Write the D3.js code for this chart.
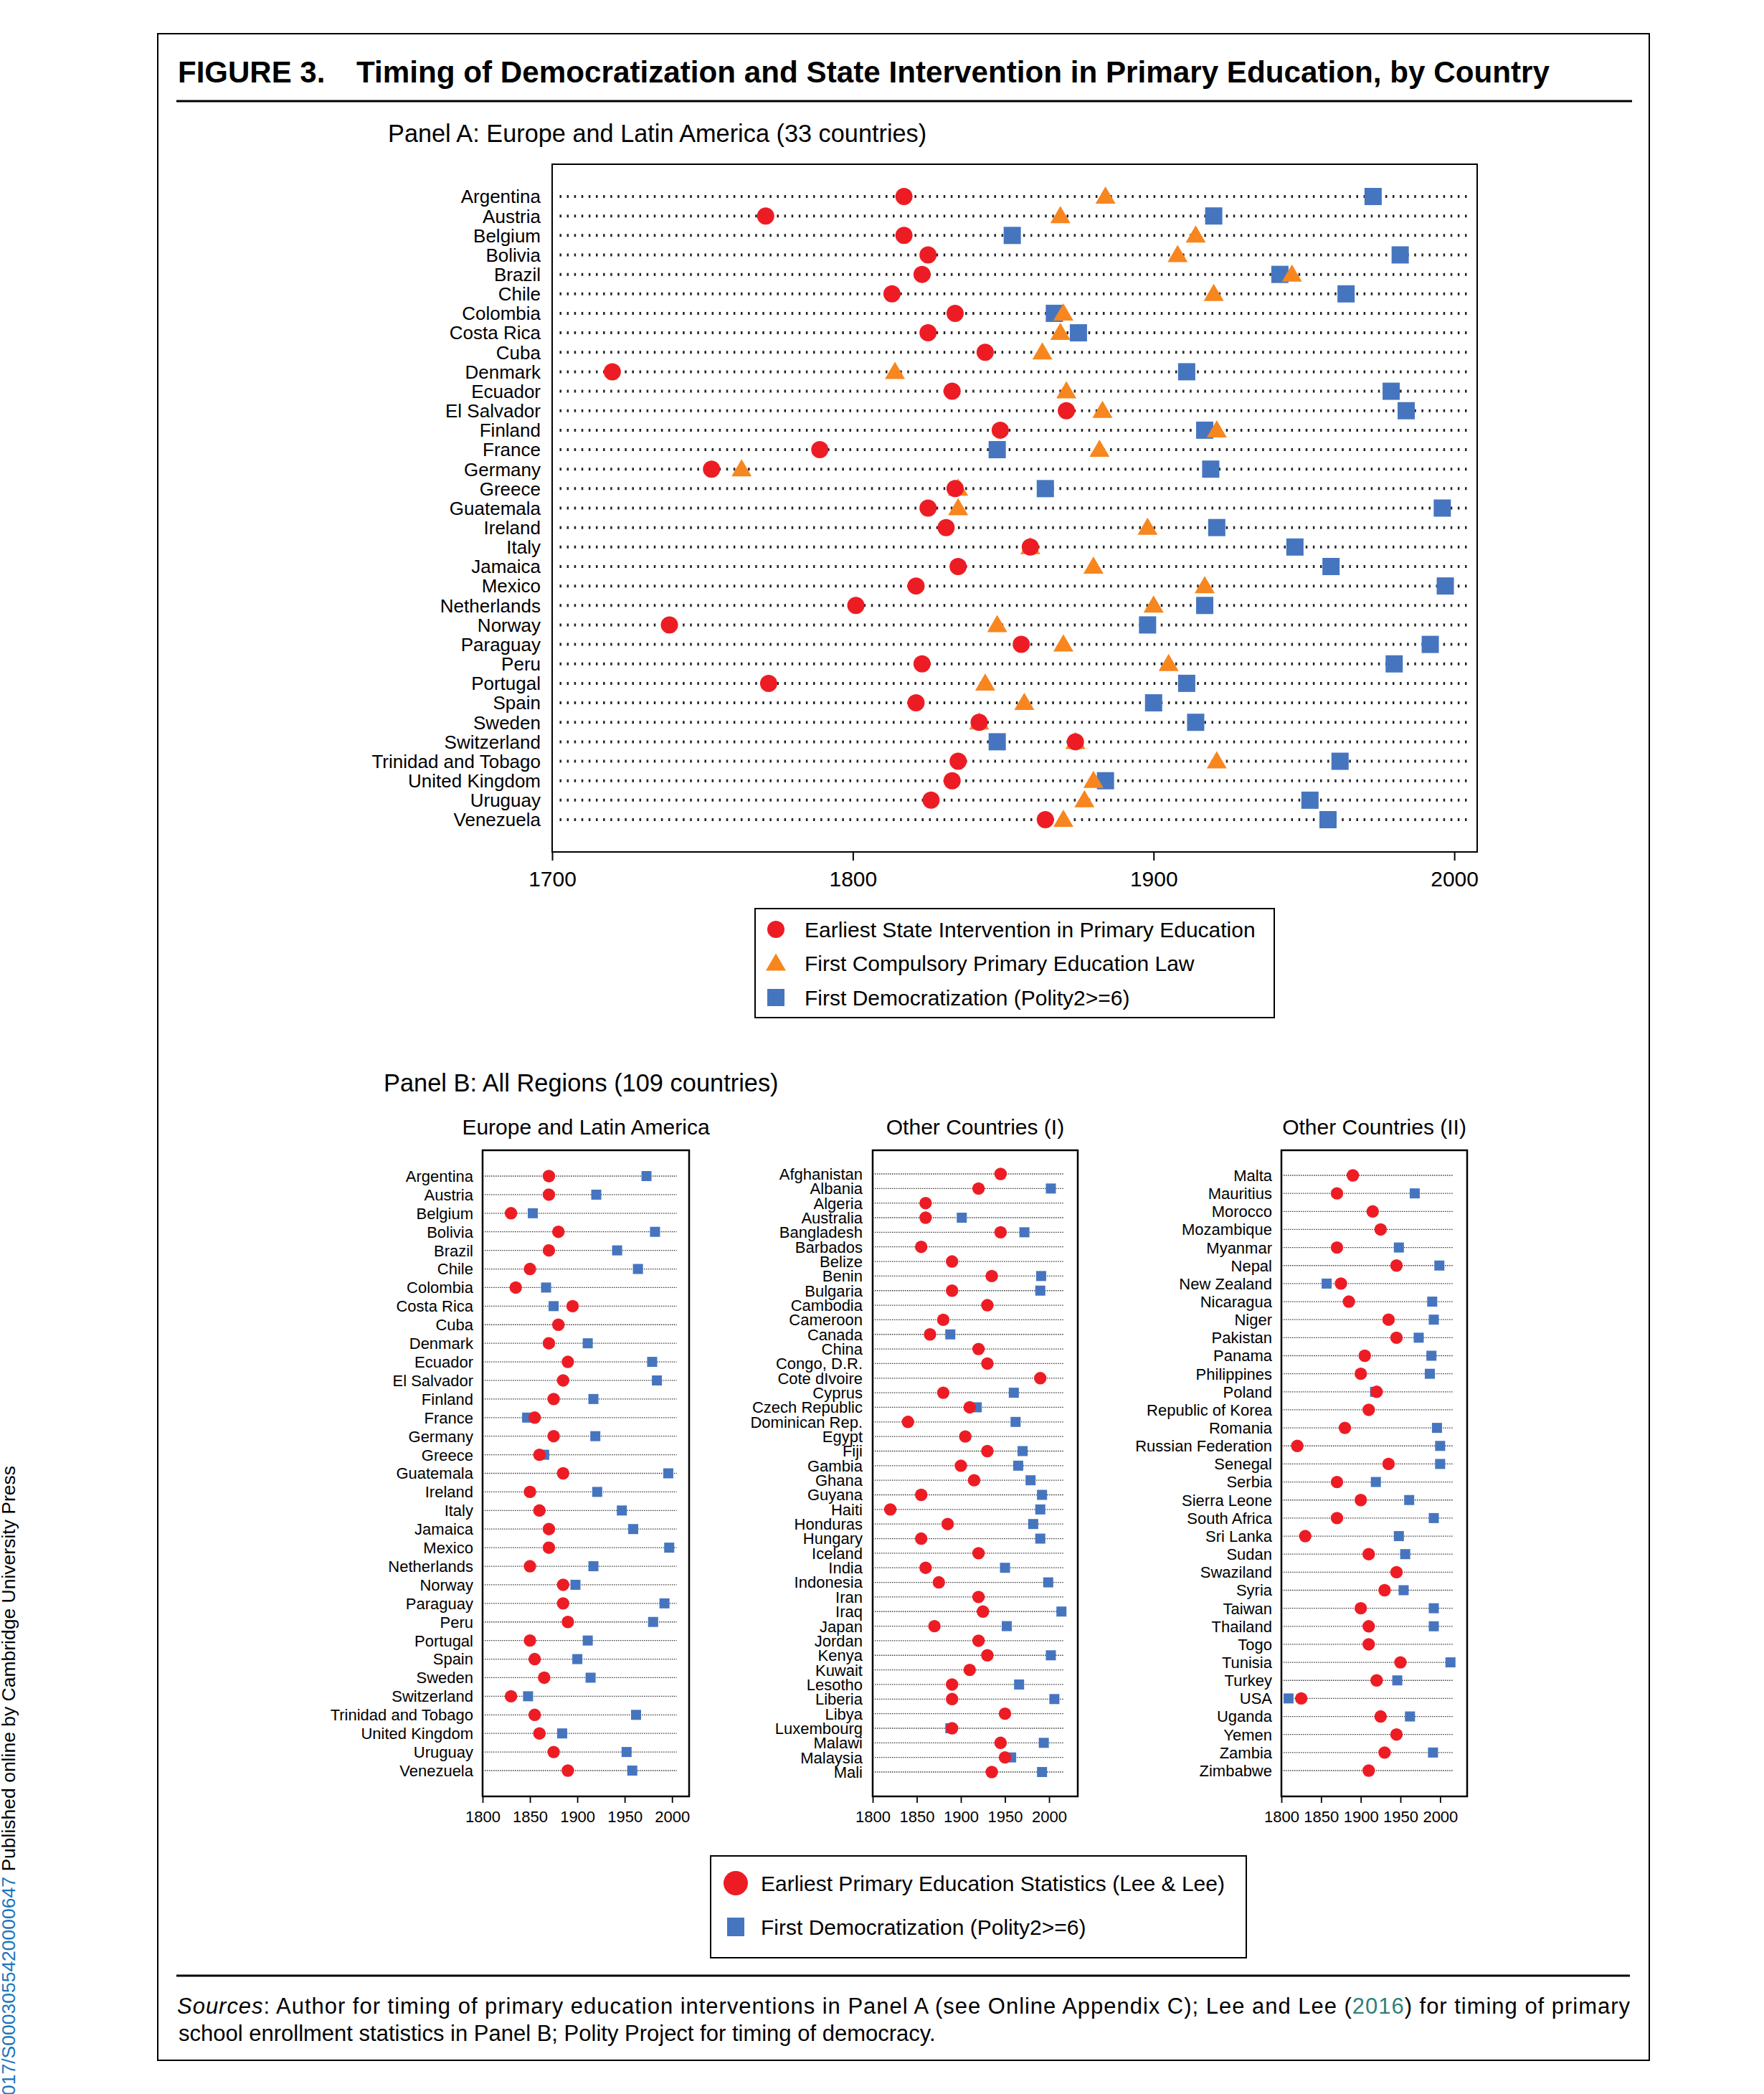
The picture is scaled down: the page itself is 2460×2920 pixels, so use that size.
<!DOCTYPE html>
<html>
<head>
<meta charset="utf-8">
<script src="https://cdn.jsdelivr.net/npm/d3@7"></script>
<style>
  body { margin: 0; background: #fff; }
  svg text { font-family: "Liberation Sans", Arial, Helvetica, sans-serif; }
</style>
</head>
<body>
<svg id="fig"></svg>
<script>
// ---- Panel A data (Europe and Latin America, 33 countries) ----
const countriesA = ["Argentina", "Austria", "Belgium", "Bolivia", "Brazil", "Chile", "Colombia", "Costa Rica",
    "Cuba", "Denmark", "Ecuador", "El Salvador", "Finland", "France", "Germany", "Greece", "Guatemala",
    "Ireland", "Italy", "Jamaica", "Mexico", "Netherlands", "Norway", "Paraguay", "Peru", "Portugal",
    "Spain", "Sweden", "Switzerland", "Trinidad and Tobago", "United Kingdom", "Uruguay", "Venezuela"];
const interventionA = [1817, 1771, 1817, 1825, 1823, 1813, 1834, 1825, 1844, 1720, 1833, 1871, 1849, 1789, 1753, 1834, 1825,
    1831, 1859, 1835, 1821, 1801, 1739, 1856, 1823, 1772, 1821, 1842, 1874, 1835, 1833, 1826, 1864];
const compulsoryA = [1884, 1869, 1914, 1908, 1946, 1920, 1870, 1869, 1863, 1814, 1871, 1883, 1921, 1882, 1763, 1835, 1835,
    1898, 1859, 1880, 1917, 1900, 1848, 1870, 1905, 1844, 1857, 1842, 1874, 1921, 1880, 1877, 1870];
const democracyA = [1973, 1920, 1853, 1982, 1942, 1964, 1867, 1875, null, 1911, 1979, 1984, 1917, 1848, 1919, 1864, 1996,
    1921, 1947, 1959, 1997, 1917, 1898, 1992, 1980, 1911, 1900, 1914, 1848, 1962, 1884, 1952, 1958];
const ticksA = [1700, 1800, 1900, 2000];
const legendA = ["Earliest State Intervention in Primary Education", "First Compulsory Primary Education Law",
    "First Democratization (Polity2>=6)"];

// ---- Panel B data (All regions, 109 countries) ----
const countriesB1 = countriesA;
const statsB1 = [1870, 1870, 1830, 1880, 1870, 1850, 1835, 1895, 1880, 1870, 1890, 1885, 1875, 1855, 1875, 1860, 1885,
    1850, 1860, 1870, 1870, 1850, 1885, 1885, 1890, 1850, 1855, 1865, 1830, 1855, 1860, 1875, 1890];
const demB1 = [1973, 1920, 1853, 1982, 1942, 1964, 1867, 1875, null, 1911, 1979, 1984, 1917, 1847, 1919, 1865, 1996,
    1921, 1947, 1959, 1997, 1917, 1898, 1992, 1980, 1911, 1900, 1914, 1848, 1962, 1884, 1952, 1958];

const countriesB2 = ["Afghanistan", "Albania", "Algeria", "Australia", "Bangladesh", "Barbados", "Belize", "Benin",
    "Bulgaria", "Cambodia", "Cameroon", "Canada", "China", "Congo, D.R.", "Cote dIvoire", "Cyprus", "Czech Republic",
    "Dominican Rep.", "Egypt", "Fiji", "Gambia", "Ghana", "Guyana", "Haiti", "Honduras", "Hungary", "Iceland", "India",
    "Indonesia", "Iran", "Iraq", "Japan", "Jordan", "Kenya", "Kuwait", "Lesotho", "Liberia", "Libya", "Luxembourg",
    "Malawi", "Malaysia", "Mali"];
const statsB2 = [1945, 1920, 1860, 1860, 1945, 1855, 1890, 1935, 1890, 1930, 1880, 1865, 1920, 1930, 1990, 1880, 1910,
    1840, 1905, 1930, 1900, 1915, 1855, 1820, 1885, 1855, 1920, 1860, 1875, 1920, 1925, 1870, 1920, 1930, 1910,
    1890, 1890, 1950, 1890, 1945, 1950, 1935];
const demB2 = [null, 2002, null, 1901, 1972, null, null, 1991, 1990, null, null, 1888, null, null, null, 1960, 1918,
    1962, null, 1970, 1965, 1979, 1992, 1990, 1982, 1990, null, 1950, 1999, null, 2014, 1952, null, 2002, null,
    1966, 2006, null, 1888, 1994, 1957, 1992];

const countriesB3 = ["Malta", "Mauritius", "Morocco", "Mozambique", "Myanmar", "Nepal", "New Zealand", "Nicaragua",
    "Niger", "Pakistan", "Panama", "Philippines", "Poland", "Republic of Korea", "Romania", "Russian Federation",
    "Senegal", "Serbia", "Sierra Leone", "South Africa", "Sri Lanka", "Sudan", "Swaziland", "Syria", "Taiwan",
    "Thailand", "Togo", "Tunisia", "Turkey", "USA", "Uganda", "Yemen", "Zambia", "Zimbabwe"];
const statsB3 = [1890, 1870, 1915, 1925, 1870, 1945, 1875, 1885, 1935, 1945, 1905, 1900, 1920, 1910, 1880, 1820,
    1935, 1870, 1900, 1870, 1830, 1910, 1945, 1930, 1900, 1910, 1910, 1950, 1920, 1825, 1925, 1945, 1930, 1910];
const demB3 = [null, 1968, null, null, 1948, 1999, 1857, 1990, 1992, 1973, 1989, 1987, 1918, null, 1996, 2000,
    2000, 1919, 1961, 1992, 1948, 1956, null, 1954, 1992, 1992, null, 2013, 1946, 1809, 1962, null, 1991, null];

const ticksB = [1800, 1850, 1900, 1950, 2000];
const subtitlesB = ["Europe and Latin America", "Other Countries (I)", "Other Countries (II)"];
const legendB = ["Earliest Primary Education Statistics (Lee & Lee)", "First Democratization (Polity2>=6)"];

const RED = "#ed1c24", ORANGE = "#f7861e", BLUE = "#4675c0";

const svg = d3.select("#fig").attr("width", 2460).attr("height", 2920);
svg.append("rect").attr("width", 2460).attr("height", 2920).attr("fill", "#fff");

// outer frame and rules
svg.append("rect").attr("x", 220).attr("y", 47).attr("width", 2080).attr("height", 2826)
    .attr("fill", "none").attr("stroke", "#000").attr("stroke-width", 2);
svg.append("line").attr("x1", 246).attr("x2", 2276).attr("y1", 141).attr("y2", 141)
    .attr("stroke", "#000").attr("stroke-width", 3);
svg.append("line").attr("x1", 246).attr("x2", 2273).attr("y1", 2755).attr("y2", 2755)
    .attr("stroke", "#000").attr("stroke-width", 3);

// title
svg.append("text").attr("x", 248).attr("y", 115).attr("font-size", 42).attr("font-weight", "bold")
    .text("FIGURE 3.");
svg.append("text").attr("x", 497).attr("y", 115).attr("font-size", 42).attr("font-weight", "bold")
    .attr("textLength", 1664).attr("lengthAdjust", "spacingAndGlyphs")
    .text("Timing of Democratization and State Intervention in Primary Education, by Country");

// ================= Panel A =================
svg.append("text").attr("x", 541).attr("y", 198).attr("font-size", 34.3)
    .text("Panel A: Europe and Latin America (33 countries)");

const xA = d3.scaleLinear().domain([1700, 2007.6]).range([770, 2060]);
const yA = d3.scalePoint().domain(countriesA).range([274, 1143]);
const boxA = { top: 229, bottom: 1188 };

const gA = svg.append("g");
gA.append("rect").attr("x", xA.range()[0]).attr("y", boxA.top)
    .attr("width", xA.range()[1] - xA.range()[0]).attr("height", boxA.bottom - boxA.top)
    .attr("fill", "none").attr("stroke", "#000").attr("stroke-width", 2);

gA.selectAll(".rowline").data(countriesA).enter().append("line")
    .attr("x1", xA(1702.5)).attr("x2", xA(2004.5))
    .attr("y1", d => yA(d)).attr("y2", d => yA(d))
    .attr("stroke", "#222").attr("stroke-width", 4).attr("stroke-dasharray", "2.5,7.6");

gA.selectAll(".lab").data(countriesA).enter().append("text")
    .attr("x", 754).attr("y", d => yA(d)).attr("dy", "0.36em")
    .attr("text-anchor", "end").attr("font-size", 26).text(d => d);

const axA = gA.append("g").attr("transform", "translate(0," + boxA.bottom + ")")
    .call(d3.axisBottom(xA).tickValues(ticksA).tickSize(12).tickPadding(15).tickFormat(d3.format("d")));
axA.select(".domain").remove();
axA.selectAll("line").attr("stroke", "#000").attr("stroke-width", 2);
axA.selectAll("text").attr("font-size", 30).attr("fill", "#000")
    .style("font-family", "'Liberation Sans', Arial, sans-serif");

const triPath = "M0,-14 L14,10 L-14,10 Z";
const idxA = d3.range(countriesA.length);

gA.selectAll(".dem").data(idxA.filter(i => democracyA[i] != null)).enter().append("rect")
    .attr("x", i => xA(democracyA[i]) - 12).attr("y", i => yA(countriesA[i]) - 12)
    .attr("width", 24).attr("height", 24).attr("fill", BLUE);
gA.selectAll(".law").data(idxA).enter().append("path")
    .attr("d", triPath)
    .attr("transform", i => "translate(" + xA(compulsoryA[i]) + "," + yA(countriesA[i]) + ")")
    .attr("fill", ORANGE);
gA.selectAll(".int").data(idxA).enter().append("circle")
    .attr("cx", i => xA(interventionA[i])).attr("cy", i => yA(countriesA[i])).attr("r", 12)
    .attr("fill", RED);

// legend A
const lgA = svg.append("g");
lgA.append("rect").attr("x", 1053).attr("y", 1267).attr("width", 724).attr("height", 152)
    .attr("fill", "#fff").attr("stroke", "#000").attr("stroke-width", 2);
const yLegA = d3.scalePoint().domain(legendA).range([1296, 1391]);
lgA.append("circle").attr("cx", 1082).attr("cy", yLegA(legendA[0])).attr("r", 12).attr("fill", RED);
lgA.append("path").attr("d", triPath).attr("transform", "translate(1082," + yLegA(legendA[1]) + ")").attr("fill", ORANGE);
lgA.append("rect").attr("x", 1070).attr("y", yLegA(legendA[2]) - 12).attr("width", 24).attr("height", 24).attr("fill", BLUE);
lgA.selectAll("text").data(legendA).enter().append("text")
    .attr("x", 1122).attr("y", d => yLegA(d)).attr("dy", "0.36em").attr("font-size", 30).text(d => d);

// ================= Panel B =================
svg.append("text").attr("x", 535).attr("y", 1522).attr("font-size", 34.4)
    .text("Panel B: All Regions (109 countries)");

const panelsB = [
    { names: countriesB1, stats: statsB1, dem: demB1, left: 673, right: 961, domEnd: 2018, lineEnd: 2005, rows: [1640, 2469], labX: 660 },
    { names: countriesB2, stats: statsB2, dem: demB2, left: 1217, right: 1503, domEnd: 2032.5, lineEnd: 2017, rows: [1637, 2471], labX: 1203 },
    { names: countriesB3, stats: statsB3, dem: demB3, left: 1787, right: 2046, domEnd: 2034, lineEnd: 2016, rows: [1639, 2469], labX: 1774 }
];
const boxB = { top: 1604, bottom: 2505 };

panelsB.forEach((p, k) => {
    const x = d3.scaleLinear().domain([1800, p.domEnd]).range([p.left, p.right]);
    const y = d3.scalePoint().domain(p.names).range(p.rows);
    const g = svg.append("g");

    g.append("text").attr("x", (p.left + p.right) / 2).attr("y", 1582)
        .attr("text-anchor", "middle").attr("font-size", 30).text(subtitlesB[k]);

    g.append("rect").attr("x", p.left).attr("y", boxB.top)
        .attr("width", p.right - p.left).attr("height", boxB.bottom - boxB.top)
        .attr("fill", "none").attr("stroke", "#000").attr("stroke-width", 2.5);

    g.selectAll(".rowline").data(p.names).enter().append("line")
        .attr("x1", x(1800)).attr("x2", x(p.lineEnd))
        .attr("y1", d => y(d)).attr("y2", d => y(d))
        .attr("stroke", "#444").attr("stroke-width", 1.3).attr("stroke-dasharray", "1.6,1.4");

    g.selectAll(".lab").data(p.names).enter().append("text")
        .attr("x", p.labX).attr("y", d => y(d)).attr("dy", "0.36em")
        .attr("text-anchor", "end").attr("font-size", 22).text(d => d);

    const ax = g.append("g").attr("transform", "translate(0," + boxB.bottom + ")")
        .call(d3.axisBottom(x).tickValues(ticksB).tickSize(9).tickPadding(11).tickFormat(d3.format("d")));
    ax.select(".domain").remove();
    ax.selectAll("line").attr("stroke", "#000").attr("stroke-width", 1.8);
    ax.selectAll("text").attr("font-size", 22).attr("fill", "#000")
        .style("font-family", "'Liberation Sans', Arial, sans-serif");

    const idx = d3.range(p.names.length);
    g.selectAll(".dem").data(idx.filter(i => p.dem[i] != null)).enter().append("rect")
        .attr("x", i => x(p.dem[i]) - 7).attr("y", i => y(p.names[i]) - 7)
        .attr("width", 14).attr("height", 14).attr("fill", BLUE);
    g.selectAll(".st").data(idx).enter().append("circle")
        .attr("cx", i => x(p.stats[i])).attr("cy", i => y(p.names[i])).attr("r", 8.7)
        .attr("fill", RED);
});

// legend B
const lgB = svg.append("g");
lgB.append("rect").attr("x", 991).attr("y", 2588).attr("width", 747).attr("height", 142)
    .attr("fill", "#fff").attr("stroke", "#000").attr("stroke-width", 2);
const yLegB = d3.scalePoint().domain(legendB).range([2626, 2687]);
lgB.append("circle").attr("cx", 1026).attr("cy", yLegB(legendB[0])).attr("r", 17).attr("fill", RED);
lgB.append("rect").attr("x", 1014).attr("y", yLegB(legendB[1]) - 13).attr("width", 24).attr("height", 26).attr("fill", BLUE);
lgB.selectAll("text").data(legendB).enter().append("text")
    .attr("x", 1061).attr("y", d => yLegB(d)).attr("dy", "0.36em").attr("font-size", 30).text(d => d);

// sources note
const src1 = svg.append("text").attr("x", 247).attr("y", 2808).attr("font-size", 31)
    .attr("textLength", 2026).attr("lengthAdjust", "spacing");
src1.append("tspan").attr("font-style", "italic").text("Sources");
src1.append("tspan").text(": Author for timing of primary education interventions in Panel A (see Online Appendix C); Lee and Lee (");
src1.append("tspan").attr("fill", "#2f7f7a").text("2016");
src1.append("tspan").text(") for timing of primary");
svg.append("text").attr("x", 249).attr("y", 2846).attr("font-size", 31)
    .text("school enrollment statistics in Panel B; Polity Project for timing of democracy.");

// vertical publisher note on left edge
const side = svg.append("text").attr("transform", "translate(21,2044) rotate(-90)")
    .attr("text-anchor", "end").attr("font-size", 26.5);
side.append("tspan").attr("fill", "#1b75bc").text("https://doi.org/10.1017/S0003055420000647");
side.append("tspan").attr("fill", "#000").text(" Published online by Cambridge University Press");
</script>
</body>
</html>
